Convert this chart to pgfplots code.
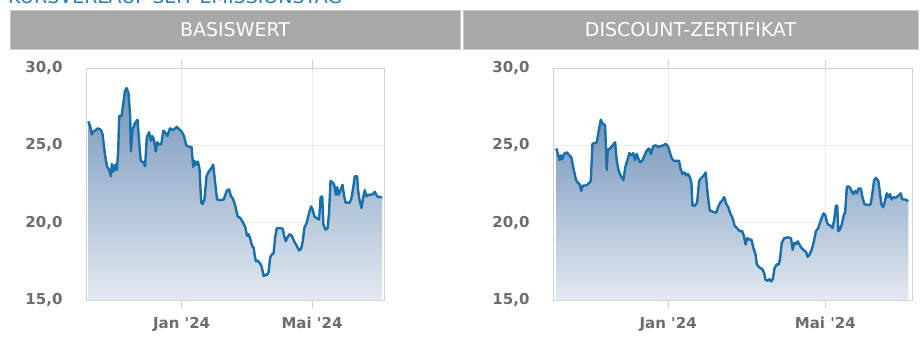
\documentclass[border=0pt]{standalone}
\usepackage{pgfplots}
\usepackage{pgfplotstable}
\pgfplotsset{compat=1.18}
\usepackage{fontspec}
\setmainfont{DejaVu Sans}
\definecolor{linec}{RGB}{24,112,170}
\definecolor{topc}{RGB}{118,150,186}
\definecolor{botc}{RGB}{226,233,241}
\definecolor{barc}{RGB}{168,168,168}
\definecolor{barb}{RGB}{205,205,205}
\definecolor{tickc}{RGB}{108,108,108}
\definecolor{gridc}{RGB}{234,234,234}
\definecolor{framec}{RGB}{210,210,210}
\definecolor{titlec}{RGB}{40,125,185}

\pgfplotstableread{
d v
-86.5 26.55
-84.7 26.2
-83.4 25.7
-81.9 25.9
-80.1 25.95
-77.9 26.1
-74.8 26.0
-73.3 25.7
-71.1 24.4
-69.3 23.65
-67.1 23.4
-65.6 23.0
-64.7 23.8
-63.1 23.3
-61.6 23.75
-60.0 23.4
-58.8 24.7
-57.9 26.9
-55.7 26.9
-53.9 27.8
-52.6 28.5
-51.1 28.7
-49.3 28.4
-47.7 26.9
-47.1 24.6
-45.6 26.0
-43.1 26.45
-40.9 26.65
-39.4 25.25
-37.9 24.0
-35.4 23.9
-33.9 23.65
-32.3 25.5
-30.2 25.85
-28.6 25.3
-27.1 25.6
-25.6 25.35
-24.0 24.6
-22.5 25.2
-20.9 25.05
-18.8 25.1
-16.9 25.95
-15.4 25.85
-13.2 25.6
-10.8 26.1
-8.6 26.0
-6.5 26.05
-4.6 26.2
-2.5 26.05
0.0 25.9
2.2 25.6
4.3 25.0
6.8 24.9
9.2 24.9
10.8 23.6
12.0 24.0
13.5 23.75
15.1 23.95
16.6 23.5
18.2 21.3
19.4 21.2
21.2 21.5
23.1 23.0
25.2 23.3
27.4 23.5
29.3 23.75
30.8 22.8
32.9 21.5
36.0 21.45
39.1 21.5
40.6 21.8
42.2 22.1
44.0 22.15
45.9 21.7
47.7 21.55
49.9 21.05
52.0 20.4
54.5 20.3
57.0 20.0
59.1 19.7
60.7 19.15
62.2 19.25
63.7 18.95
65.3 18.5
66.8 18.4
67.7 17.95
69.0 17.5
70.5 17.55
73.0 17.35
74.5 17.1
76.1 16.55
77.6 16.65
79.1 16.6
80.7 16.8
82.2 17.75
83.7 17.95
85.3 18.0
86.8 19.05
88.4 19.65
91.4 19.65
93.9 19.6
95.1 19.15
96.7 18.8
98.2 19.05
100.1 19.25
102.2 19.15
104.4 18.8
106.8 18.5
109.0 18.2
110.8 18.3
112.4 18.8
113.9 19.65
116.1 20.0
118.2 20.6
120.1 21.05
121.6 20.85
123.2 20.4
125.3 20.3
127.5 20.2
129.0 21.65
130.5 21.7
131.5 19.9
133.6 19.55
135.5 19.65
136.7 20.55
138.2 22.7
140.1 22.6
141.6 22.45
143.2 21.8
144.4 22.3
145.6 21.8
147.5 22.1
149.3 22.45
150.6 21.8
152.1 21.3
153.9 21.3
156.1 21.3
157.6 21.6
159.2 22.25
160.7 23.0
162.9 23.0
163.8 22.05
165.3 21.4
166.9 20.95
168.4 21.6
170.0 22.1
171.5 21.7
173.0 21.8
175.2 21.8
177.7 21.85
179.2 22.0
181.4 21.7
183.8 21.65
186.0 21.65
}\basis

\pgfplotstableread{
d v
-86.2 24.8
-84.9 24.45
-83.6 24.05
-82.6 24.35
-81.6 24.1
-80.1 24.45
-78.0 24.55
-76.2 24.35
-74.7 24.25
-72.9 23.5
-71.1 22.8
-69.8 22.6
-68.3 22.5
-67.0 22.05
-65.7 22.4
-63.9 22.4
-62.2 22.45
-60.6 22.6
-59.6 22.7
-58.3 25.1
-56.3 25.15
-55.0 25.2
-53.5 25.95
-51.9 26.65
-50.4 26.4
-48.6 26.3
-47.3 23.4
-46.6 24.7
-44.8 24.8
-42.7 25.0
-40.9 25.2
-39.6 24.0
-38.1 23.35
-36.6 23.05
-34.5 22.75
-33.0 23.6
-31.5 24.0
-29.9 24.5
-28.1 24.35
-26.9 24.5
-25.6 24.05
-24.3 24.45
-23.0 24.15
-21.7 23.9
-20.0 24.0
-18.7 24.25
-16.6 24.65
-14.8 24.8
-13.3 24.45
-11.5 24.95
-9.5 25.0
-7.7 24.9
-5.9 24.95
-3.8 25.0
-1.8 25.1
0.0 24.9
1.3 24.55
2.8 24.15
4.3 24.0
6.4 24.0
8.4 24.0
9.5 23.5
11.0 23.15
12.8 23.25
14.1 23.05
15.3 23.15
16.6 22.95
17.9 22.6
18.7 21.1
20.5 21.1
22.3 21.3
23.8 22.7
25.6 22.9
27.4 23.05
28.9 23.25
30.4 21.85
32.0 20.8
34.5 20.7
37.1 20.65
38.4 21.0
40.2 21.3
41.7 21.45
43.2 21.65
44.8 21.2
46.3 21.0
47.8 20.6
49.4 20.35
51.2 19.8
52.4 19.7
54.0 19.55
55.5 19.45
57.0 19.45
58.3 19.15
59.6 18.6
60.9 19.0
62.7 18.9
64.2 18.9
65.7 18.35
67.3 17.95
68.3 17.3
70.3 17.1
71.6 17.05
72.9 16.95
74.2 16.65
74.9 16.3
76.7 16.25
78.0 16.35
79.3 16.2
80.6 16.35
81.9 17.05
83.6 17.3
85.2 17.3
86.2 17.7
87.5 18.7
89.5 19.0
92.1 19.05
94.6 19.0
95.9 18.25
97.2 18.7
98.5 18.6
99.8 18.8
101.0 18.6
102.3 18.4
104.1 18.25
106.2 18.1
107.4 17.8
108.7 17.9
110.5 18.25
112.0 18.7
113.8 19.45
115.6 19.65
116.9 20.0
118.4 20.35
119.7 20.6
121.0 20.5
122.3 20.0
123.5 19.85
125.3 19.8
126.6 19.65
127.9 20.2
129.2 21.1
130.2 21.1
131.0 19.45
132.2 19.55
133.8 19.9
135.1 20.45
136.3 20.65
137.6 22.3
138.9 22.35
140.2 22.25
141.5 22.0
142.7 21.85
144.0 22.05
145.3 21.9
146.6 22.2
148.4 22.2
149.6 21.65
151.2 21.2
153.0 21.15
154.8 21.15
156.0 21.2
157.3 21.9
158.6 22.75
159.9 22.9
161.9 22.7
162.9 22.05
164.2 21.2
165.5 21.0
167.0 21.4
168.3 21.9
169.6 21.65
170.8 21.85
172.1 21.5
173.4 21.65
175.2 21.6
177.3 21.75
179.1 21.9
180.3 21.5
182.4 21.5
185.0 21.4
}\discount

\pgfplotsset{
  chartstyle/.style={
    scale only axis,
    height=232pt,
    xmin=-88.7, xmax=187.8,
    ymin=15, ymax=30,
    ytick={15,20,25,30},
    xtick={0,121},
    xticklabels={Jan \textquotesingle24, Mai \textquotesingle24},
    grid=major,
    major grid style={draw=gridc, line width=0.8pt},
    axis line style={draw=framec, line width=0.9pt},
    tick align=outside,
    major tick length=8pt,
    xtick style={draw=framec, line width=0.9pt},
    ytick style={draw=none},
    /pgf/number format/.cd, use comma, fixed, fixed zerofill, precision=1, assume math mode=true,
    /pgfplots/.cd,
    yticklabel style={font=\fontsize{15}{15}\selectfont\bfseries, text=tickc, anchor=east, xshift=-12pt},
    xticklabel style={font=\fontsize{15}{15}\selectfont\bfseries, text=tickc, anchor=north, yshift=-6pt},
    clip=true,
  }
}

\begin{document}
\begin{tikzpicture}
\path[use as bounding box] (0pt,0pt) rectangle (920pt,349pt);
\clip (0pt,0pt) rectangle (920pt,349pt);
\node[anchor=base west, inner sep=0pt, text=titlec, font=\fontsize{19}{19}\selectfont] at (8pt,345pt) {KURSVERLAUF SEIT EMISSIONSTAG};
% header bars
\fill[barc] (10pt,300pt) rectangle (460pt,338pt);
\draw[barb, line width=1pt] (10pt,300pt) rectangle (460pt,338pt);
\node[text=white, font=\fontsize{19}{19}\selectfont] at (235pt,319pt) {BASISWERT};
\fill[barc] (463pt,300pt) rectangle (918pt,338pt);
\draw[barb, line width=1pt] (463pt,300pt) rectangle (918pt,338pt);
\node[text=white, font=\fontsize{19}{19}\selectfont] at (690.5pt,319pt) {DISCOUNT-ZERTIFIKAT};

\begin{axis}[chartstyle, width=298pt, at={(86pt,49pt)}, anchor=south west]
\addplot[draw=none, top color=topc, bottom color=botc, forget plot] table[x=d,y=v]{\basis} \closedcycle;
\addplot[linec, line width=2.4pt, line join=round, mark=none] table[x=d,y=v]{\basis};
\end{axis}

\begin{axis}[chartstyle, width=359pt, at={(553pt,49pt)}, anchor=south west]
\addplot[draw=none, top color=topc, bottom color=botc, forget plot] table[x=d,y=v]{\discount} \closedcycle;
\addplot[linec, line width=2.4pt, line join=round, mark=none] table[x=d,y=v]{\discount};
\end{axis}
\end{tikzpicture}
\end{document}
